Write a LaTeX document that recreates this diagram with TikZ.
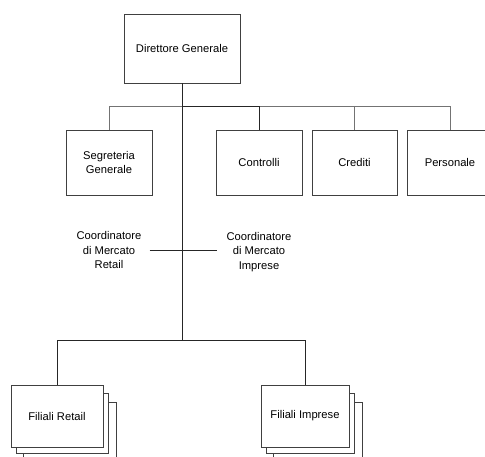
\documentclass[tikz,border=0pt]{standalone}
\usepackage{fontspec}
\setmainfont{Liberation Sans}
\usetikzlibrary{calc}
\begin{document}
\begin{tikzpicture}[x=1pt,y=-1pt,
  boxst/.style={draw=black!75,line width=0.9pt,fill=white,inner sep=0pt,align=center,font=\fontsize{11.2}{14}\selectfont},
  txtst/.style={inner sep=0pt,align=center,font=\fontsize{11.2}{14.5}\selectfont},
  trunk/.style={draw=black!85,line width=0.9pt},
  bus/.style={draw=black!55,line width=0.9pt}]
\useasboundingbox (0,0) rectangle (485,457);
\begin{scope}
\clip (0,0) rectangle (485,457);
% top
\node[boxst,minimum width=116pt,minimum height=69pt] (dg) at (182,48.5) {Direttore Generale};
\node[boxst,minimum width=86pt,minimum height=65pt] (sg) at (109,162.5) {Segreteria\\Generale};
\node[boxst,minimum width=86pt,minimum height=65pt] (co) at (259,162.5) {Controlli};
\node[boxst,minimum width=85pt,minimum height=65pt] (cr) at (354.5,162.5) {Crediti};
\node[boxst,minimum width=86pt,minimum height=65pt] (pe) at (450,162.5) {Personale};
% coordinators
\node[txtst] (cl) at (109,250) {Coordinatore\\di Mercato\\Retail};
\node[txtst] (ci) at (259,252) {Coordinatore\\di Mercato\\Imprese};
% stacked boxes
\draw[draw=black!75,line width=0.9pt,fill=white] (23,402) rectangle (116,470);
\draw[draw=black!75,line width=0.9pt,fill=white] (16,393) rectangle (108,453);
\node[boxst,minimum width=92pt,minimum height=62pt] (fr) at (57,416) {Filiali Retail};
\draw[draw=black!75,line width=0.9pt,fill=white] (273,402) rectangle (362,470);
\draw[draw=black!75,line width=0.9pt,fill=white] (266,393) rectangle (354,453);
\node[boxst,minimum width=88pt,minimum height=62pt] (fi) at (305,416) {Filiali Imprese};
% connectors
\coordinate (j1) at (182,106);
\coordinate (j2) at (182,340);
\draw[bus] (sg.north) |- (j1);
\draw[bus] (j1) -| (pe.north);
\draw[trunk] (j1) -| (co.north);
\draw[bus] (j1 -| cr.north) -- (cr.north);
\draw[trunk] (dg.south) -- (j2);
\coordinate (ca) at ($(cl.east)+(8,0)$);
\coordinate (cb) at ($(ci.west)+(-9,0)$);
\draw[trunk] (ca) -- (ca -| cb);
\draw[trunk] (j2) -| (fr.north);
\draw[trunk] (j2) -| (fi.north);
\end{scope}
\end{tikzpicture}
\end{document}
